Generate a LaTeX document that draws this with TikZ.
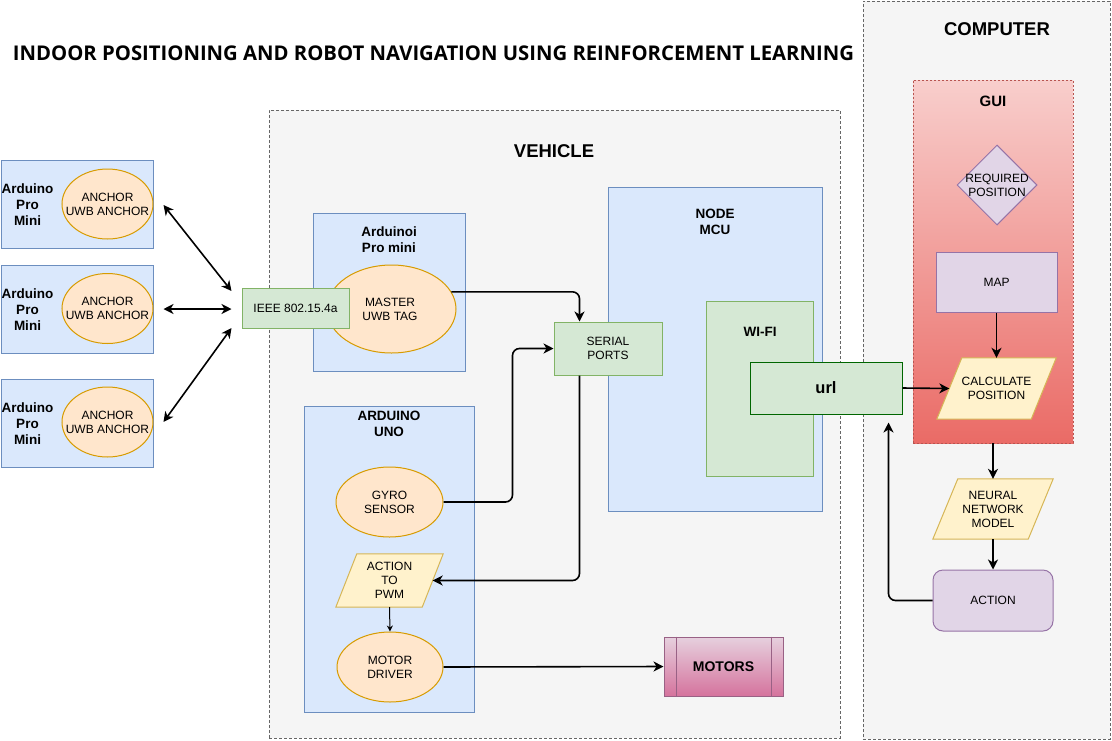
\documentclass[tikz,border=0pt]{standalone}
\usepackage{fontspec}
\setmainfont{Liberation Sans}
\newfontfamily\titlefont{Open Sans}
\usetikzlibrary{shapes.geometric,arrows.meta,calc,shadings}
\definecolor{contfill}{HTML}{F5F5F5}
\definecolor{contdraw}{HTML}{666666}
\definecolor{bluefill}{HTML}{DAE8FC}
\definecolor{bluedraw}{HTML}{6C8EBF}
\definecolor{orfill}{HTML}{FFE6CC}
\definecolor{ordraw}{HTML}{D79B00}
\definecolor{grfill}{HTML}{D5E8D4}
\definecolor{grdraw}{HTML}{82B366}
\definecolor{urldraw}{HTML}{006600}
\definecolor{ylfill}{HTML}{FFF2CC}
\definecolor{yldraw}{HTML}{D6B656}
\definecolor{prfill}{HTML}{E1D5E7}
\definecolor{prdraw}{HTML}{9673A6}
\definecolor{guitop}{HTML}{F8CECC}
\definecolor{guibot}{HTML}{EA6B66}
\definecolor{guidraw}{HTML}{B85450}
\definecolor{mottop}{HTML}{E6D0DE}
\definecolor{motbot}{HTML}{D5739D}
\definecolor{motdraw}{HTML}{996185}
\begin{document}
\begin{tikzpicture}[x=1pt,y=-1pt,
  cont/.style={draw=contdraw,fill=contfill,dash pattern=on 3pt off 2pt,line width=0.8pt,inner sep=0pt},
  bluebox/.style={draw=bluedraw,fill=bluefill,line width=1pt,inner sep=0pt},
  orng/.style={ellipse,draw=ordraw,fill=orfill,line width=1pt,inner sep=0pt},
  grnbox/.style={draw=grdraw,fill=grfill,line width=1pt,inner sep=0pt},
  box/.style={inner sep=0pt},
  ylw/.style={draw=yldraw,fill=ylfill,line width=1pt},
  prp/.style={draw=prdraw,fill=prfill,line width=1pt,inner sep=0pt},
  txt/.style={align=center,inner sep=0pt,font=\fontsize{12}{14}\selectfont},
  btxt/.style={align=center,inner sep=0pt,font=\fontsize{13.5}{16}\selectfont\bfseries},
  bigtxt/.style={align=center,inner sep=0pt,font=\fontsize{18.5}{22}\selectfont\bfseries},
  conn/.style={line width=1.6pt,-{Stealth[length=10pt,width=10pt,inset=3pt]},rounded corners=7pt},
  dconn/.style={line width=1.6pt,{Stealth[length=10pt,width=10pt,inset=3pt]}-{Stealth[length=10pt,width=10pt,inset=3pt]}},
  thinarr/.style={line width=1pt,-{Stealth[length=6pt,width=6pt,inset=2pt]}}
]
\useasboundingbox (0,0) rectangle (1112,740);
\fill[white] (0,0) rectangle (1112,740);

% title
\node[inner sep=0pt] (title) at (433.5,53) {\resizebox{841pt}{!}{\titlefont\bfseries INDOOR POSITIONING AND ROBOT NAVIGATION USING REINFORCEMENT LEARNING}};

% containers
\node[cont,minimum width=571pt,minimum height=628pt] (veh) at (554.5,424) {};
\node[bigtxt] (vehl) at (554,151) {VEHICLE};
\node[cont,minimum width=247pt,minimum height=738pt] (comp) at (986.5,370) {};
\node[bigtxt] (compl) at (997,29) {COMPUTER};

% anchors
\node[bluebox,minimum width=152pt,minimum height=88pt] (b1) at (77,204) {};
\node[bluebox,minimum width=152pt,minimum height=88pt] (b2) at (77,309) {};
\node[bluebox,minimum width=152pt,minimum height=88pt] (b3) at (77,423) {};
\node[btxt] (b1t) at (27.5,205) {Arduino\\Pro\\Mini};
\node[btxt] (b2t) at (27.5,310) {Arduino\\Pro\\Mini};
\node[btxt] (b3t) at (27.5,424) {Arduino\\Pro\\Mini};
\node[orng,minimum width=91pt,minimum height=70pt] (a1) at (107.5,204) {};
\node[orng,minimum width=91pt,minimum height=70pt] (a2) at (107.5,308.5) {};
\node[orng,minimum width=91pt,minimum height=70pt] (a3) at (107.5,422) {};
\node[txt] (a1t) at (a1) {ANCHOR\\UWB ANCHOR};
\node[txt] (a2t) at (a2) {ANCHOR\\UWB ANCHOR};
\node[txt] (a3t) at (a3) {ANCHOR\\UWB ANCHOR};

% arduinoi pro mini
\node[bluebox,minimum width=152pt,minimum height=158pt] (apm) at (389,292) {};
\node[btxt] (apmt) at (389,240) {Arduinoi\\Pro mini};
\node[orng,minimum width=129pt,minimum height=88pt] (master) at (391.5,309) {};
\node[txt] (mastert) at (390,309.5) {MASTER\\UWB TAG};
\node[grnbox,minimum width=107pt,minimum height=40pt,txt] (ieee) at (295.5,308) {IEEE 802.15.4a};

% arduino uno
\node[bluebox,minimum width=170pt,minimum height=306pt] (uno) at (389,559) {};
\node[btxt] (unot) at (389,424) {ARDUINO\\UNO};
\node[orng,minimum width=107pt,minimum height=70pt] (gyro) at (389.5,502) {};
\node[txt] (gyrot) at (gyro) {GYRO\\SENSOR};
\node[box,minimum width=107pt,minimum height=53pt] (pwm) at (389.5,580.5) {};
\filldraw[ylw] (pwm.south west) -- ($(pwm.north west)+(21,0)$) -- (pwm.north east) -- ($(pwm.south east)+(-21,0)$) -- cycle;
\coordinate (pwmE) at ($(pwm.east)+(-10.5,0)$);
\node[txt] (pwmt) at (pwm) {ACTION\\TO\\PWM};
\node[orng,minimum width=106pt,minimum height=70pt] (driver) at (390,667) {};
\node[txt] (drivert) at (driver) {MOTOR\\DRIVER};

% motors
\node[draw=motdraw,top color=mottop,bottom color=motbot,line width=1pt,minimum width=119pt,minimum height=59pt,inner sep=0pt,font=\fontsize{14}{16}\selectfont\bfseries] (motors) at (723.5,666.5) {MOTORS};
\draw[motdraw,line width=1pt] ($(motors.north west)+(13,0)$) -- ($(motors.south west)+(13,0)$);
\draw[motdraw,line width=1pt] ($(motors.north east)+(-12,0)$) -- ($(motors.south east)+(-12,0)$);

% node mcu
\node[bluebox,minimum width=214pt,minimum height=324pt] (mcu) at (715,349) {};
\node[btxt] (mcut) at (715,222) {NODE\\MCU};
\node[grnbox,minimum width=107pt,minimum height=175pt] (wifi) at (759.5,388.5) {};
\node[btxt] (wifit) at (760,332) {WI-FI};
\node[grnbox,draw=urldraw,minimum width=152pt,minimum height=52pt,font=\fontsize{16.5}{18}\selectfont\bfseries] (url) at (826,388) {url};
\node[grnbox,minimum width=108pt,minimum height=53pt,txt] (serial) at (608,348.5) {SERIAL\\PORTS};

% gui
\node[draw=guidraw,dash pattern=on 2pt off 2pt,top color=guitop,bottom color=guibot,line width=0.8pt,minimum width=160pt,minimum height=363pt,inner sep=0pt] (gui) at (993,261.5) {};
\node[align=center,inner sep=0pt,font=\fontsize{15}{17}\selectfont\bfseries] (guit) at (993,101) {GUI};
\node[diamond,prp,minimum width=80pt,minimum height=80pt] (req) at (997,185) {};
\node[txt] (reqt) at (req) {REQUIRED\\POSITION};
\node[prp,minimum width=121pt,minimum height=60pt,txt] (map) at (996.5,282) {MAP};
\node[box,minimum width=119pt,minimum height=61pt] (calc) at (996.5,388.5) {};
\filldraw[ylw] (calc.south west) -- ($(calc.north west)+(25,0)$) -- (calc.north east) -- ($(calc.south east)+(-25,0)$) -- cycle;
\coordinate (calcW) at ($(calc.west)+(12.5,0)$);
\node[txt] (calct) at (calc) {CALCULATE\\POSITION};
\node[box,minimum width=120pt,minimum height=60pt] (nn) at (993,509) {};
\filldraw[ylw] (nn.south west) -- ($(nn.north west)+(25,0)$) -- (nn.north east) -- ($(nn.south east)+(-25,0)$) -- cycle;
\node[txt] (nnt) at (nn) {NEURAL\\NETWORK\\MODEL};
\node[prp,rounded corners=10pt,minimum width=120pt,minimum height=61pt,txt] (action) at (993,600.5) {ACTION};

% connectors
\draw[dconn] ($(b1.east)+(10,1)$) -- ($(ieee.west)+(-10,-17)$);
\draw[dconn] ($(b2.east)+(10,0)$) -- ($(ieee.west)+(-10,1)$);
\draw[dconn] ($(b3.east)+(10,-1)$) -- ($(ieee.west)+(-10,20)$);
\draw[conn] (master.16) -| ($(serial.north west)+(26,0)$);
\draw[conn] (gyro.east) -| ($(serial.west)+(-41,0)$) -- (serial.west);
\draw[conn] ($(serial.south west)+(26,0)$) |- (pwmE);
\draw[thinarr] (pwm.south) -- (driver.north);
\draw[conn] (driver.east) -- (motors.west);
\draw[conn] (url.east) -- (calcW);
\draw[conn] (map.south) -- (calc.north);
\draw[conn] (gui.south) -- (nn.north);
\draw[conn] (nn.south) -- (action.north);
\draw[conn] (action.west) -| ($(url.south east)+(-14,8)$);
\end{tikzpicture}
\end{document}
